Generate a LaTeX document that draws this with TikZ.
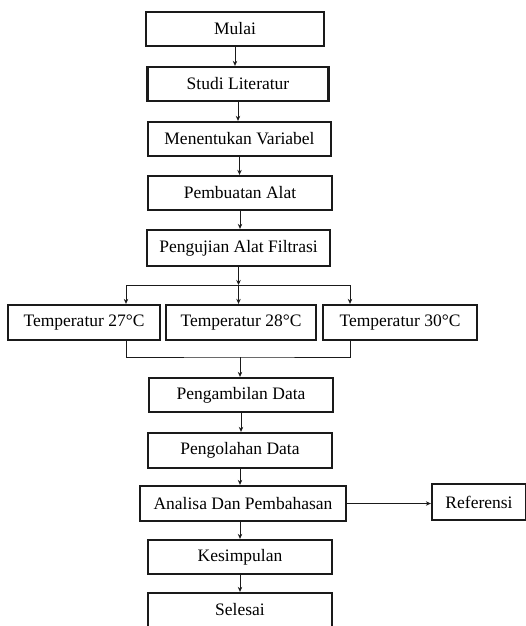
\documentclass[tikz,border=0pt]{standalone}
\usepackage{fontspec}
\setmainfont{Liberation Serif}
\usetikzlibrary{arrows.meta}
\definecolor{FlowInk}{HTML}{1A1A1A}

\begin{document}
\begin{tikzpicture}[x=1pt,y=-1pt,>={Stealth[length=5pt,width=4.5pt]},
  langkah/.style={draw=FlowInk,line width=2.3pt,rectangle,inner sep=0pt,
    minimum height=34pt,font=\fontsize{17.5}{20}\selectfont},
  alur/.style={->,line width=0.9pt,FlowInk}]
  \useasboundingbox (0,0) rectangle (525,626);
  \node[langkah,minimum width=178pt] (mulai) at (235,29) {Mulai};
  \node[langkah,minimum width=181pt] (studi) at (238,84) {Studi Literatur};
  \node[langkah,minimum width=183pt] (variabel) at (239.5,139) {Menentukan Variabel};
  \node[langkah,minimum width=184pt] (alat) at (240,193) {Pembuatan Alat};
  \node[langkah,minimum width=183pt,minimum height=36pt] (uji) at (238.5,248) {Pengujian Alat Filtrasi};
  \node[langkah,minimum width=152pt,minimum height=35pt] (t27) at (84,322.5) {Temperatur 27°C};
  \node[langkah,minimum width=150pt,minimum height=35pt] (t28) at (241,322.5) {Temperatur 28°C};
  \node[langkah,minimum width=154pt,minimum height=35pt] (t30) at (400,322.5) {Temperatur 30°C};
  \node[langkah,minimum width=184pt] (ambil) at (241,395) {Pengambilan Data};
  \node[langkah,minimum width=184pt,minimum height=35pt] (olah) at (240,450.5) {Pengolahan Data};
  \node[langkah,minimum width=206pt,minimum height=35pt] (analisa) at (243,503.5) {Analisa Dan Pembahasan};
  \node[langkah,minimum width=94pt,minimum height=36pt] (ref) at (479,502) {Referensi};
  \node[langkah,minimum width=184pt] (simpul) at (240,557) {Kesimpulan};
  \node[langkah,minimum width=184pt] (selesai) at (240,610) {Selesai};
  % cabang temperatur
  \coordinate (cabang) at (238.5,285);
  \coordinate (kiri) at (126,285);
  \coordinate (kanan) at (350,285);
  \coordinate (gabung) at (240,357);
  \draw[alur] (mulai) -- (mulai |- studi.north);
  \draw[alur] (studi) -- (studi |- variabel.north);
  \draw[alur] (variabel) -- (variabel |- alat.north);
  \draw[alur] (alat) -- (alat |- uji.north);
  \draw[alur] (uji) -- (cabang);
  \draw[line width=0.9pt,FlowInk] (kiri) -- (kanan);
  \draw[alur] (kiri) -- (kiri |- t27.north);
  \draw[alur] (cabang) -- (cabang |- t28.north);
  \draw[alur] (kanan) -- (kanan |- t30.north);
  \draw[line width=0.9pt,FlowInk] (kiri |- t27.south) |- (gabung) -| (kanan |- t30.south);
  \draw[alur] (gabung) -- (gabung |- ambil.north);
  \draw[alur] (ambil) -- (ambil |- olah.north);
  \draw[alur] (olah) -- (olah |- analisa.north);
  \draw[alur] (analisa) -- (analisa -| ref.west);
  \draw[alur] (analisa.south -| simpul) -- (simpul);
  \draw[alur] (simpul) -- (selesai);
\end{tikzpicture}
\end{document}
